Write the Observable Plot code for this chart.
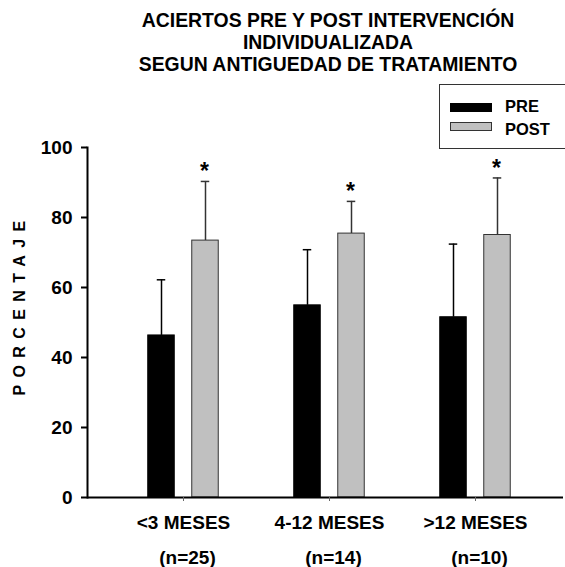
<!DOCTYPE html>
<html><head><meta charset="utf-8">
<script src="https://cdn.jsdelivr.net/npm/d3@7"></script>
<script src="https://cdn.jsdelivr.net/npm/@observablehq/plot@0.6"></script>
<style>
html,body{margin:0;padding:0;background:#fff;overflow:hidden;width:565px;height:567px}
body{font-family:"Liberation Sans",Arial,sans-serif;position:relative;color:#000}
#title{position:absolute;left:91px;width:474px;top:9px;text-align:center;font-weight:bold;font-size:19.4px;line-height:22px}
#chart{position:absolute;left:0;top:80px}
#legend{position:absolute;left:439px;top:84px;width:150px;height:65px;border:1px solid #333;box-sizing:border-box;background:#fff}
.sw{position:absolute;left:10px;width:42px;height:9px;box-sizing:border-box}
.lt{position:absolute;left:65px;font-weight:bold;font-size:16.5px;line-height:20px}
</style>
</head><body>
<div id="title"></div>
<div id="chart"></div>
<div id="legend"></div>
<script>
const titleLines = ["ACIERTOS PRE Y POST INTERVENCIÓN", "INDIVIDUALIZADA", "SEGUN ANTIGUEDAD DE TRATAMIENTO"];
const categories = ["<3 MESES", "4-12 MESES", ">12 MESES"];
const nLabels = ["(n=25)", "(n=14)", "(n=10)"];
const seriesNames = ["PRE", "POST"];
const preMean = [46.3, 54.9, 51.5];
const preSD = [15.9, 15.9, 20.9];
const postMean = [73.4, 75.4, 75.0];
const postSD = [16.9, 9.2, 16.3];
const significance = ["*", "*", "*"];
const yTicks = [0, 20, 40, 60, 80, 100];
const yLabel = "PORCENTAJE";

const PRE_COLOR = "#000000", POST_COLOR = "#c0c0c0";

document.getElementById("title").innerHTML = titleLines.join("<br>");

const legend = document.getElementById("legend");
legend.innerHTML = `
  <div class="sw" style="top:17.5px;background:${PRE_COLOR};border:1px solid #000"></div>
  <div class="lt" style="top:10.5px">${seriesNames[0]}</div>
  <div class="sw" style="top:37px;background:${POST_COLOR};border:1px solid #333"></div>
  <div class="lt" style="top:33.5px">${seriesNames[1]}</div>`;

const rows = categories.map((c, i) => ({
  cat: c, pre: preMean[i], preTop: preMean[i] + preSD[i],
  post: postMean[i], postTop: postMean[i] + postSD[i], sig: significance[i]
}));

const step = 476 / 3.249;
const barInset = (step - 27) / 2;
const capInset = (step - 9) / 2;
const off = 22;

const chart = Plot.plot({
  width: 565, height: 487,
  marginLeft: 87, marginRight: 2, marginTop: 67, marginBottom: 70,
  style: {fontFamily: '"Liberation Sans", Arial, sans-serif', fontWeight: "bold", background: "transparent"},
  x: {domain: categories, paddingInner: 0, paddingOuter: 0.1245, align: 0.596, label: null},
  y: {domain: [0, 100], label: null},
  marks: [
    Plot.ruleX(rows, {x: "cat", y1: "pre", y2: "preTop", dx: -off, stroke: "#000", strokeWidth: 1.5}),
    Plot.tickY(rows, {x: "cat", y: "preTop", dx: -off, insetLeft: capInset, insetRight: capInset, stroke: "#000", strokeWidth: 1.5}),
    Plot.ruleX(rows, {x: "cat", y1: "post", y2: "postTop", dx: off, stroke: "#333", strokeWidth: 1.5}),
    Plot.tickY(rows, {x: "cat", y: "postTop", dx: off, insetLeft: capInset, insetRight: capInset, stroke: "#333", strokeWidth: 1.5}),
    Plot.barY(rows, {x: "cat", y: "pre", dx: -off, insetLeft: barInset, insetRight: barInset, fill: PRE_COLOR, stroke: "#000", strokeWidth: 1}),
    Plot.barY(rows, {x: "cat", y: "post", dx: off, insetLeft: barInset, insetRight: barInset, fill: POST_COLOR, stroke: "#333", strokeWidth: 1}),
    Plot.text(rows, {x: "cat", y: "postTop", text: "sig", dx: off - 1, dy: -2, lineAnchor: "bottom", fontSize: 23, fontWeight: "bold"}),
    Plot.axisY({ticks: yTicks, tickSize: 6, tickPadding: 9, strokeWidth: 2, fontSize: 19, fontWeight: "bold", label: null}),
    Plot.frame({anchor: "left", strokeWidth: 2}),
    Plot.ruleY([0], {strokeWidth: 2}),
    Plot.axisX({tickSize: 4, tickPadding: 14, stroke: "#666", fontSize: 19, fontWeight: "bold", label: null}),
    Plot.axisX({tickSize: 0, tickPadding: 18, tickFormat: d => nLabels[categories.indexOf(d)], dy: 35, dx: 4, fontSize: 19, fontWeight: "bold", label: null}),
    Plot.text([yLabel], {frameAnchor: "left", textAnchor: "middle", rotate: -90, dx: -68, dy: -18, fontSize: 16, fontWeight: "bold", text: d => d})
  ]
});
d3.select(chart).selectAll("text").filter(function() { return this.textContent === yLabel; }).style("letter-spacing", "7.4px");
document.getElementById("chart").appendChild(chart);
</script>
</body></html>
